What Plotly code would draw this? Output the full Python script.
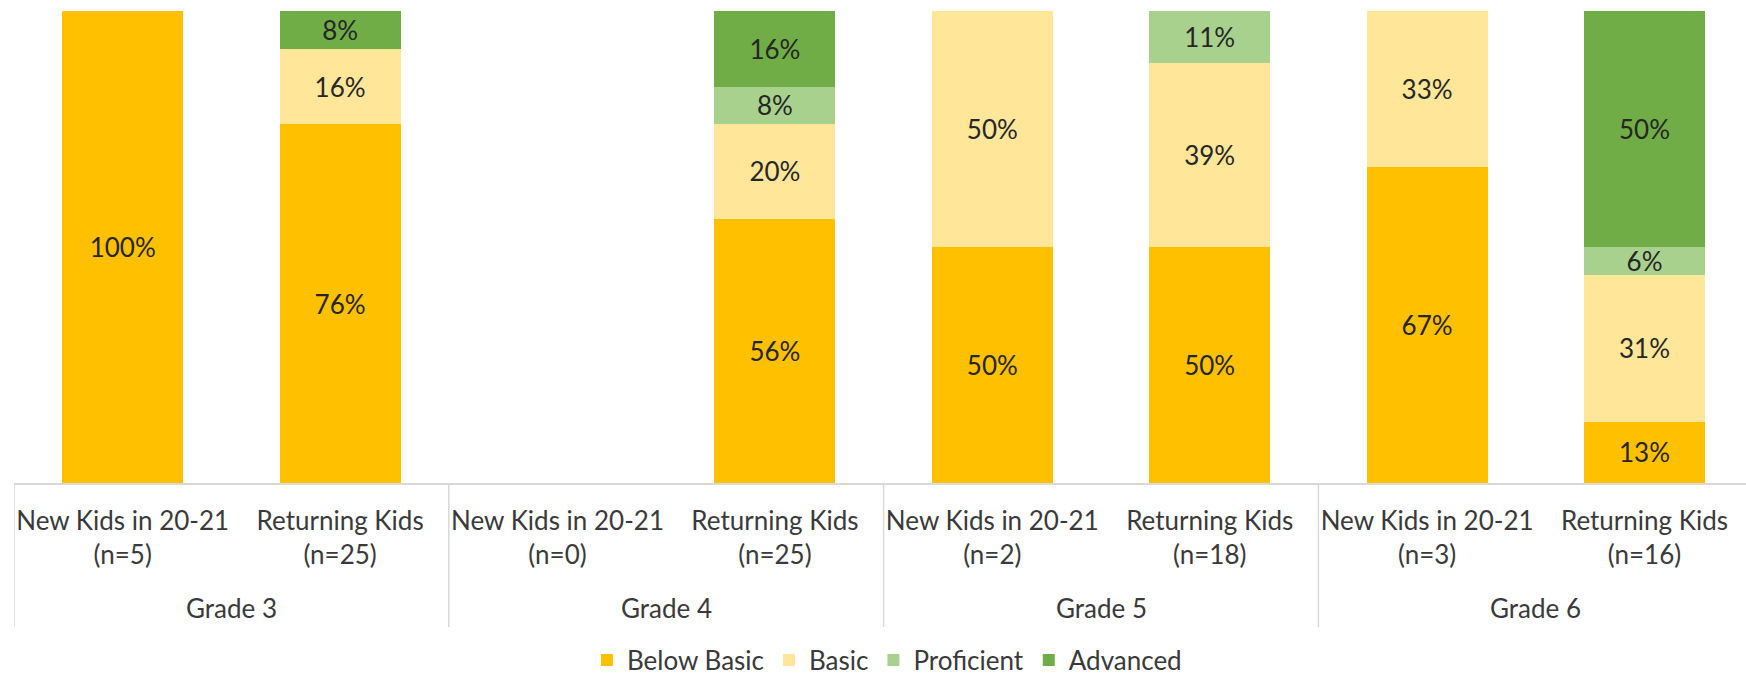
import plotly.graph_objects as go

grades = ["Grade 3", "Grade 4", "Grade 5", "Grade 6"]
subcats = ["New Kids in 20-21<br>(n=5)", "Returning Kids<br>(n=25)",
           "New Kids in 20-21<br>(n=0)", "Returning Kids<br>(n=25)",
           "New Kids in 20-21<br>(n=2)", "Returning Kids<br>(n=18)",
           "New Kids in 20-21<br>(n=3)", "Returning Kids<br>(n=16)"]

below_basic = [100, 76, None, 56, 50, 50, 67, 13]
basic = [None, 16, None, 20, 50, 39, 33, 31]
proficient = [None, None, None, 8, None, 11, None, 6]
advanced = [None, 8, None, 16, None, None, None, 50]

series = [
    ("Below Basic", below_basic, "#FFC000"),
    ("Basic", basic, "#FFE699"),
    ("Proficient", proficient, "#A9D18E"),
    ("Advanced", advanced, "#70AD47"),
]

FONT = "Lato"
FS = 26
TXT = "#262626"

x = list(range(len(subcats)))

fig = go.Figure()
for name, vals, color in series:
    fig.add_trace(go.Bar(
        x=x, y=vals, name=name,
        marker=dict(color=color, line=dict(width=0)),
        width=0.557,
        text=[f"{v}%" if v else "" for v in vals],
        textposition="inside", insidetextanchor="middle",
        textangle=0,
        textfont=dict(family=FONT, size=FS, color=TXT),
    ))

# px per category ~217.4, plot from x=14 to 1746
x_right = -0.5 + 1732 / 217.4

shapes = []
for xv in [-0.5, 1.5, 3.5, 5.5]:
    shapes.append(dict(type="line", xref="x", yref="paper", x0=xv, x1=xv,
                       y0=0, y1=-0.305, line=dict(color="#D9D9D9", width=1.5)))

annotations = []
for i, g in enumerate(grades):
    annotations.append(dict(text=g, xref="x", yref="paper", x=2 * i + 0.5,
                            y=-0.265, yanchor="middle", xanchor="center",
                            showarrow=False,
                            font=dict(family=FONT, size=FS, color="#3A3A3A")))

fig.update_layout(
    barmode="stack",
    width=1746, height=675,
    margin=dict(l=14, r=0, t=11, b=192),
    plot_bgcolor="white", paper_bgcolor="white",
    font=dict(family=FONT, size=FS, color="#3A3A3A"),
    uniformtext=dict(minsize=FS, mode="show"),
    xaxis=dict(range=[-0.5, x_right], tickvals=x, ticktext=subcats,
               showgrid=False, zeroline=False, showline=True,
               linecolor="#D9D9D9", linewidth=1.5, ticks="",
               ticklabelstandoff=14,
               tickfont=dict(family=FONT, size=FS, color="#3A3A3A")),
    yaxis=dict(range=[0, 100], visible=False, showgrid=False, zeroline=False),
    legend=dict(orientation="h", xref="container", yref="container",
                x=0.508, xanchor="center", y=0.022, yanchor="middle",
                font=dict(family=FONT, size=FS, color="#3A3A3A"),
                traceorder="normal", itemwidth=30),
    shapes=shapes,
    annotations=annotations,
    showlegend=True,
)

fig.write_html("out.html")
